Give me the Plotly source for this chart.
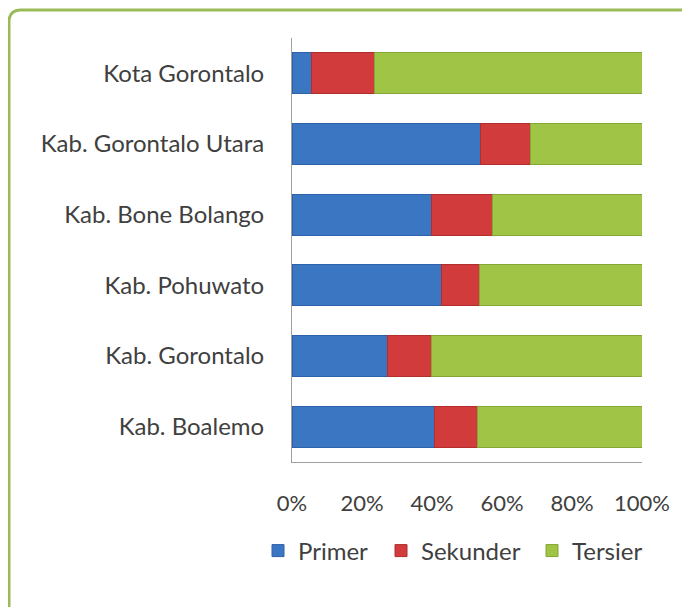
import plotly.graph_objects as go

categories = ["Kota Gorontalo", "Kab. Gorontalo Utara", "Kab. Bone Bolango",
              "Kab. Pohuwato", "Kab. Gorontalo", "Kab. Boalemo"]
primer = [5.6, 53.8, 39.9, 42.8, 27.3, 40.6]
sekunder = [17.9, 14.2, 17.4, 10.7, 12.6, 12.4]
tersier = [76.5, 32.0, 42.7, 46.5, 60.1, 47.0]
tick_vals = [0, 20, 40, 60, 80, 100]
tick_text = ["0%", "20%", "40%", "60%", "80%", "100%"]

OFF = 8  # page body margin
W, H = 690, 607
L, T = 292 - OFF, 38 - OFF
pw, ph = 350, 424
R = W - L - pw
B = H - T - ph

def px(x):  # screen x -> paper
    return (x - OFF - L) / pw

def py(y):  # screen y -> paper
    return (T + ph - (y - OFF)) / ph

fig = go.Figure()
series = [("Primer", primer, "#3B76C3", "#2E62A8", "legend", 258),
          ("Sekunder", sekunder, "#D23B3B", "#B02E2E", "legend2", 381),
          ("Tersier", tersier, "#A0C446", "#84A635", "legend3", 532)]
legends = {}
for name, vals, col, lcol, leg, lx in series:
    fig.add_trace(go.Bar(
        y=categories, x=vals, name=name, orientation="h", legend=leg,
        marker=dict(color=col, line=dict(color=lcol, width=1)),
    ))
    legends[leg] = dict(orientation="h", x=px(lx), xanchor="left", y=py(551),
                        yanchor="middle", font=dict(size=24),
                        bgcolor="rgba(0,0,0,0)")

# outer rounded green border
x0, y0, x1, y1, r = px(9), py(10), px(704), py(620), 12
rx, ry = r / pw, r / ph
path = (f"M {x0+rx},{y0} L {x1},{y0} L {x1},{y1} L {x0},{y1} L {x0},{y0-ry} "
        f"Q {x0},{y0} {x0+rx},{y0} Z")
fig.add_shape(type="path", path=path, xref="paper", yref="paper",
              line=dict(color="#9BBB59", width=3), layer="below")

fig.update_layout(
    width=W, height=H,
    margin=dict(l=L, r=R, t=T, b=B, autoexpand=False),
    barmode="stack", bargap=0.42,
    plot_bgcolor="white", paper_bgcolor="white",
    font=dict(family="Lato, Open Sans, sans-serif", size=24, color="#404040"),
    showlegend=True,
    **legends,
    xaxis=dict(range=[0, 100], tickvals=tick_vals, ticktext=tick_text,
               showgrid=False, zeroline=False, showline=True,
               linecolor="#A0A0A0", linewidth=1, ticks="",
               tickfont=dict(size=22),
               ticklabelstandoff=22, fixedrange=True),
    yaxis=dict(categoryorder="array", categoryarray=categories[::-1],
               showgrid=False, zeroline=False, showline=True,
               linecolor="#A0A0A0", linewidth=1, ticks="",
               ticklabelstandoff=22),
)

fig.write_html("out.html")
